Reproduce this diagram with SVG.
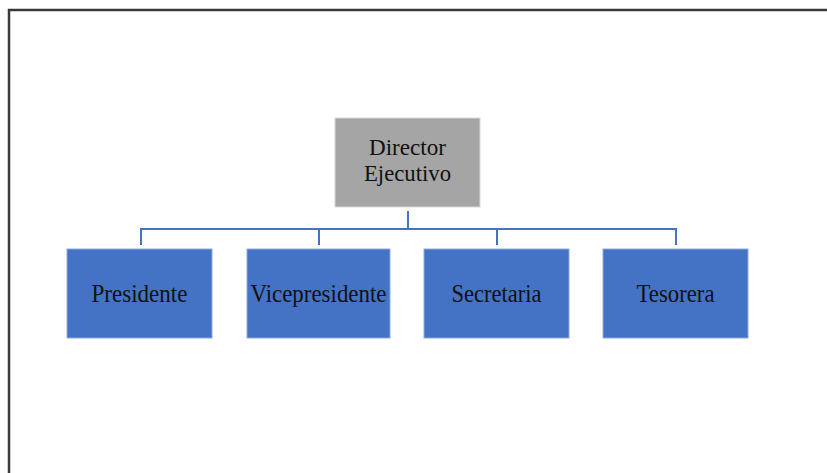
<svg xmlns="http://www.w3.org/2000/svg" width="827" height="473" viewBox="0 0 827 473">
<style>
.frame{fill:none;stroke:#3a3a3a;stroke-width:2.5}
.top{fill:#a5a5a5;stroke:#d9d9d9;stroke-width:1}
.box{fill:#4472c4;stroke:#8eaadb;stroke-width:1}
.con{fill:none;stroke:#4472c4;stroke-width:2}
text{font-family:"Liberation Serif","Times New Roman",serif;font-size:26px;fill:#111;text-anchor:middle}
.d{font-size:24px}
</style>
<rect width="827" height="473" fill="#fff"/>
<rect class="frame" x="9" y="10" width="840" height="480"/>
<g id="connectors">
<path class="con" d="M408 211V229M141 245V229H676V245M319 229V245M497 229V245"/>
</g>
<g id="director">
<rect class="top" x="335" y="118" width="145" height="89"/>
<text class="d" x="407.5" y="155" textLength="77" lengthAdjust="spacingAndGlyphs">Director</text>
<text class="d" x="407.5" y="181" textLength="87" lengthAdjust="spacingAndGlyphs">Ejecutivo</text>
</g>
<g id="presidente">
<rect class="box" x="67" y="249" width="145" height="89"/>
<text x="139.5" y="302" textLength="96" lengthAdjust="spacingAndGlyphs">Presidente</text>
</g>
<g id="vicepresidente">
<rect class="box" x="247" y="249" width="143" height="89"/>
<text x="318.5" y="302" textLength="136" lengthAdjust="spacingAndGlyphs">Vicepresidente</text>
</g>
<g id="secretaria">
<rect class="box" x="424" y="249" width="145" height="89"/>
<text x="496.5" y="302" textLength="90" lengthAdjust="spacingAndGlyphs">Secretaria</text>
</g>
<g id="tesorera">
<rect class="box" x="603" y="249" width="145" height="89"/>
<text x="675.5" y="302" textLength="78" lengthAdjust="spacingAndGlyphs">Tesorera</text>
</g>
</svg>
